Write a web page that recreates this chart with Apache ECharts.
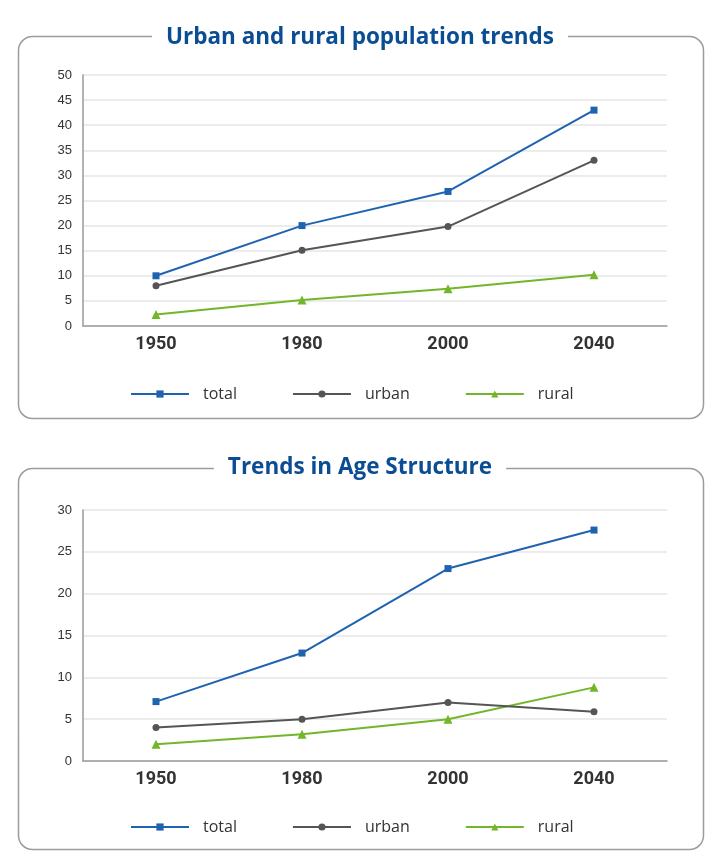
<!DOCTYPE html>
<html>
<head>
<meta charset="utf-8">
<script src="https://cdn.jsdelivr.net/npm/echarts@6/dist/echarts.min.js"></script>
<style>
html,body{margin:0;padding:0;background:#fff;}
#c{width:720px;height:867px;}
</style>
</head>
<body>
<div id="c"></div>
<script>
var categories = ['1950', '1980', '2000', '2040'];
var seriesNames = ['total', 'urban', 'rural'];

var title1 = 'Urban and rural population trends';
var total1 = [10, 20, 26.8, 43];
var urban1 = [8, 15.1, 19.8, 33];
var rural1 = [2.3, 5.2, 7.4, 10.2];

var title2 = 'Trends in Age Structure';
var total2 = [7.1, 12.9, 23, 27.6];
var urban2 = [4, 5, 7, 5.9];
var rural2 = [2, 3.2, 5, 8.8];

var colors = ['#1f63b0', '#555555', '#72b62a'];
var symbols = ['rect', 'circle', 'triangle'];
var symbolSizes = [7, 7, 9];

var chart = echarts.init(document.getElementById('c'), null, {renderer: 'canvas'});

function mkSeries(idx, data) {
  return data.map(function (d, i) {
    return {
      name: seriesNames[i],
      type: 'line',
      xAxisIndex: idx,
      yAxisIndex: idx,
      data: d,
      symbol: symbols[i],
      symbolSize: symbolSizes[i],
      showAllSymbol: true,
      lineStyle: {color: colors[i], width: 2},
      itemStyle: {color: colors[i]},
      z: 5 - i
    };
  });
}

function xAx(idx) {
  return {
    type: 'category', gridIndex: idx, data: categories, boundaryGap: true,
    axisLine: {lineStyle: {color: '#9a9a9a', width: 1.5}},
    axisTick: {show: false},
    axisLabel: {fontFamily: 'Roboto', fontWeight: 'bold', fontSize: 18, color: '#333', margin: 9},
    splitLine: {show: false}
  };
}
function yAx(idx, max) {
  return {
    type: 'value', gridIndex: idx, min: 0, max: max, interval: 5,
    axisLine: {show: true, lineStyle: {color: '#9a9a9a', width: 1.5}},
    axisTick: {show: false},
    axisLabel: {fontFamily: 'Liberation Sans', fontSize: 13, color: '#333', margin: 11, padding: [0, 0, 6, 0]},
    splitLine: {show: true, lineStyle: {color: '#ececec', width: 2}}
  };
}
function legend(top) {
  return {
    left: 125, top: top, itemWidth: 58, itemHeight: 9, itemGap: 55,
    data: seriesNames,
    textStyle: {fontFamily: 'Open Sans', fontSize: 16, color: '#333', padding: [0, 0, 0, 9]}
  };
}
function titleObj(text, top) {
  return {
    text: text, left: 'center', top: top,
    backgroundColor: '#fff', padding: [2, 14],
    textStyle: {fontFamily: 'Open Sans', fontWeight: 'bold', fontSize: 22.5, color: '#0b4d93'},
    z: 10
  };
}

var option = {
  backgroundColor: '#fff',
  animation: false,
  title: [titleObj(title1, 24), titleObj(title2, 454)],
  legend: [legend(381), legend(814)],
  graphic: [
    {type: 'rect', shape: {x: 18.5, y: 36.5, width: 685, height: 382, r: 14},
     style: {fill: 'none', stroke: '#9c9c9c', lineWidth: 1.5}, z: 0},
    {type: 'rect', shape: {x: 18.5, y: 468.5, width: 685, height: 381, r: 14},
     style: {fill: 'none', stroke: '#9c9c9c', lineWidth: 1.5}, z: 0}
  ],
  grid: [
    {left: 83, right: 53, top: 75, height: 251},
    {left: 83, right: 53, top: 510, height: 251}
  ],
  xAxis: [xAx(0), xAx(1)],
  yAxis: [yAx(0, 50), yAx(1, 30)],
  series: mkSeries(0, [total1, urban1, rural1]).concat(mkSeries(1, [total2, urban2, rural2]))
};
chart.setOption(option);
</script>
</body>
</html>
